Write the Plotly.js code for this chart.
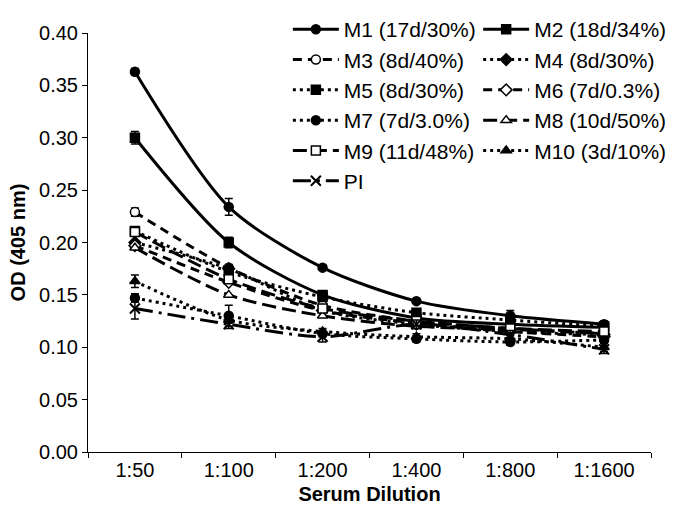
<!DOCTYPE html>
<html>
<head>
<meta charset="utf-8">
<script src="https://cdn.plot.ly/plotly-3.0.1.min.js"></script>
<style>
  body { margin: 0; background: #fff; }
  #grafica { width: 680px; height: 519px; }
</style>
</head>
<body>
<div id="grafica"></div>
<script>
// diluciones del suero (eje x)
const diluciones = ['1:50', '1:100', '1:200', '1:400', '1:800', '1:1600'];

// nombres de las series
const nombres = ['M1 (17d/30%)', 'M2 (18d/34%)', 'M3 (8d/40%)', 'M4 (8d/30%)', 'M5 (8d/30%)',
  'M6 (7d/0.3%)', 'M7 (7d/3.0%)', 'M8 (10d/50%)', 'M9 (11d/48%)', 'M10 (3d/10%)', 'PI'];

// OD
const m1 = [0.363, 0.234, 0.176, 0.144, 0.130, 0.122];
const m2 = [0.300, 0.200, 0.150, 0.128, 0.122, 0.119];
const m3 = [0.229, 0.176, 0.140, 0.125, 0.118, 0.113];
const m4 = [0.200, 0.175, 0.135, 0.122, 0.115, 0.112];
const m5 = [0.211, 0.172, 0.148, 0.133, 0.126, 0.120];
const m6 = [0.197, 0.162, 0.135, 0.123, 0.115, 0.110];
const m7 = [0.147, 0.130, 0.113, 0.108, 0.105, 0.107];
const m8 = [0.195, 0.150, 0.130, 0.120, 0.117, 0.113];
const m9 = [0.210, 0.165, 0.137, 0.125, 0.118, 0.115];
const m10 = [0.163, 0.126, 0.115, 0.110, 0.108, 0.100];
const pi = [0.137, 0.122, 0.110, 0.122, 0.112, 0.098];

// barras de error
const e1 = [0.003, 0.008, 0.002, 0.002, 0.005, 0.003];
const e2 = [0.006, 0.005, 0.003, 0.008, 0.003, 0.004];
const e3 = [0.004, 0.003, 0.003, 0.003, 0.003, 0.003];
const e7 = [0.004, 0.010, 0.003, 0.003, 0.003, 0.003];
const e10 = [0.006, 0.003, 0.003, 0.003, 0.003, 0.004];
const ePI = [0.010, 0.004, 0.005, 0.004, 0.004, 0.004];

const valores = [m1, m2, m3, m4, m5, m6, m7, m8, m9, m10, pi];
const errores = [e1, e2, e3, null, null, null, e7, null, null, e10, ePI];

// estilos: linea y marcador
const estilos = [
  { dash: 'solid', sym: 'circle', fill: 'black' },
  { dash: 'solid', sym: 'square', fill: 'black' },
  { dash: '9px,6px', sym: 'circle', fill: 'white' },
  { dash: '3px,4px', sym: 'diamond', fill: 'black' },
  { dash: '3px,4px', sym: 'square', fill: 'black' },
  { dash: '9px,6px', sym: 'diamond', fill: 'white' },
  { dash: '3px,4px', sym: 'circle', fill: 'black' },
  { dash: '14px,6px', sym: 'triangle-up', fill: 'white' },
  { dash: '14px,6px', sym: 'square', fill: 'white' },
  { dash: '3px,4px', sym: 'triangle-up', fill: 'black' },
  { dash: '18px,6px,3px,6px', sym: 'x-thin-open', fill: 'black' }
];

const trazos = valores.map((v, i) => {
  const st = estilos[i];
  const t = {
    x: diluciones,
    y: v,
    name: nombres[i],
    type: 'scatter',
    mode: 'lines+markers',
    line: { color: 'black', width: 3, dash: st.dash, shape: 'spline', smoothing: 0.8 },
    marker: {
      symbol: st.sym,
      size: st.sym === 'x-thin-open' ? 10 : 9,
      color: st.fill,
      line: { color: 'black', width: st.sym === 'x-thin-open' ? 2 : 1.5 }
    },
    legend: (i % 2 === 0) ? 'legend' : 'legend2'
  };
  if (errores[i]) {
    t.error_y = { type: 'data', array: errores[i], visible: true, color: 'black', thickness: 1.5, width: 4 };
  }
  return t;
});

const fuente = { family: 'Arial, Liberation Sans, sans-serif', size: 20, color: 'black' };

const leyenda = {
  x: 0.355, y: 1.057, xanchor: 'left', yanchor: 'top',
  bgcolor: 'rgba(0,0,0,0)', font: { ...fuente, size: 21 },
  itemwidth: 46
};

Plotly.newPlot('grafica', trazos, {
  width: 680,
  height: 519,
  margin: { l: 88, r: 9, t: 15, b: 67 },
  paper_bgcolor: 'white',
  plot_bgcolor: 'white',
  font: fuente,
  showlegend: true,
  legend: leyenda,
  legend2: { ...leyenda, x: 0.693 },
  xaxis: {
    type: 'category',
    range: [-0.5, 5.5],
    showline: true, linecolor: 'black', linewidth: 1,
    ticks: 'outside', tickson: 'boundaries', ticklen: 5, tickcolor: 'black',
    showgrid: false, zeroline: false,
    title: { text: '<b>Serum Dilution</b>', font: fuente, standoff: 6 }
  },
  yaxis: {
    range: [0, 0.4],
    dtick: 0.05, tickformat: '.2f',
    showline: true, linecolor: 'black', linewidth: 1,
    ticks: 'outside', ticklen: 5, tickcolor: 'black',
    showgrid: false, zeroline: false,
    title: { text: '<b>OD (405 nm)</b>', font: fuente, standoff: 8 }
  }
}, { displayModeBar: false });
</script>
</body>
</html>
